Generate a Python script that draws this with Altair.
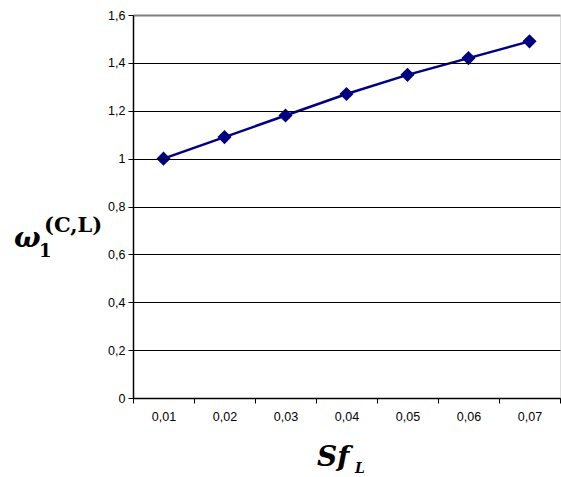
import altair as alt
import pandas as pd

# Dimensionless parameter Sf_L (category labels) and the computed ratio
sf_labels = ["0,01", "0,02", "0,03", "0,04", "0,05", "0,06", "0,07"]
omega_values = [1.00, 1.09, 1.18, 1.27, 1.35, 1.42, 1.49]
y_ticks = [0, 0.2, 0.4, 0.6, 0.8, 1.0, 1.2, 1.4, 1.6]

df = pd.DataFrame({"sf": sf_labels, "omega": omega_values})

W, H = 427, 383
LABEL_FONT = "Liberation Sans"
TITLE_FONT = "DejaVu Serif"

x_enc = alt.X(
    "sf:N",
    sort=sf_labels,
    scale=alt.Scale(paddingInner=0, paddingOuter=0),
    axis=alt.Axis(
        title=None, labelAngle=0, tickBand="extent", tickSize=5,
        tickColor="black", domainColor="black", domainWidth=1.5,
        labelFont=LABEL_FONT, labelFontSize=12.5, labelColor="black",
        labelPadding=7, grid=False, zindex=1,
    ),
)
y_enc = alt.Y(
    "omega:Q",
    scale=alt.Scale(domain=[0, 1.6], nice=False),
    axis=alt.Axis(
        title=None, values=y_ticks, tickSize=5, tickColor="black",
        domainColor="black", domainWidth=1.5, labelFont=LABEL_FONT,
        labelFontSize=12.5, labelColor="black", labelPadding=3,
        labelExpr="replace(format(datum.value, '~g'), '.', ',')",
        grid=True, zindex=1,
        gridColor={"condition": {"test": "datum.value >= 1.6", "value": "#808080"},
                   "value": "black"},
        gridWidth={"condition": {"test": "datum.value >= 1.6", "value": 2},
                   "value": 1},
    ),
)

line = alt.Chart(df).mark_line(color="#000080", strokeWidth=2.5).encode(x=x_enc, y=y_enc)
points = alt.Chart(df).mark_point(
    shape="diamond", filled=True, color="#000080", size=200, opacity=1
).encode(x="sf:N", y="omega:Q")

# Axis titles built from pieces so sub/superscripts can be placed
def label(text, x, y, size, style="italic", weight="bold", align="left"):
    return alt.Chart(pd.DataFrame({"t": [text]})).mark_text(
        font=TITLE_FONT, fontSize=size, fontStyle=style, fontWeight=weight,
        align=align, baseline="alphabetic", color="black",
    ).encode(x=alt.value(x), y=alt.value(y), text="t:N")

titles = [
    label("ω", -119, 232, 28),
    label("1", -94, 242, 18, style="normal"),
    label("(C,L)", -89, 217, 21, style="normal"),
    label("Sf", 184, 451, 28),
    label("L", 222, 458, 14),
]

chart = alt.layer(line, points, *titles).properties(
    width=W, height=H,
    padding={"left": 133, "top": 15, "right": 1, "bottom": 79},
    autosize=alt.AutoSizeParams(type="none"),
).configure_view(stroke="#808080", strokeWidth=1).configure(background="white")

chart.save("out.html", embed_options={"renderer": "svg", "actions": False})
